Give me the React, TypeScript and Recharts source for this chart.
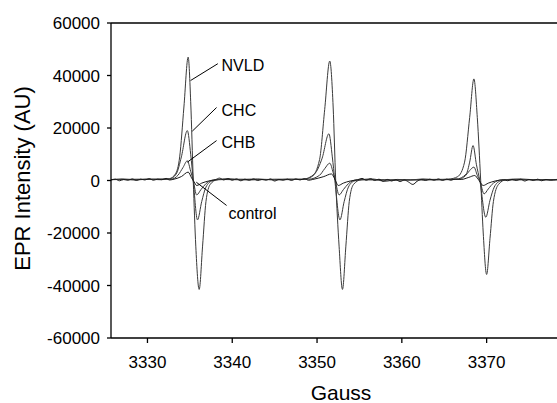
import React from "react";
import {
  LineChart,
  Line,
  XAxis,
  YAxis,
  ReferenceLine,
  ReferenceDot,
} from "recharts";

// field positions (Gauss) and intensities (AU)
const nvldGauss = [
  3325.7, 3327, 3328.5, 3330, 3331.5, 3332.6, 3333.3, 3333.8, 3334.3, 3334.8, 3335.1, 3335.4, 3335.7, 3336.1,
  3336.5, 3336.9, 3337.4, 3338.2, 3339.5, 3341, 3343, 3345, 3346.5, 3348.2, 3349.4, 3350.3, 3350.9, 3351.5,
  3351.9, 3352.2, 3352.6, 3353.0, 3353.4, 3353.8, 3354.3, 3355.2, 3356.5, 3358, 3359.5, 3361, 3362.5, 3364,
  3365.5, 3366.6, 3367.4, 3368, 3368.5, 3368.9, 3369.3, 3369.6, 3370.0, 3370.4, 3370.8, 3371.4, 3372.3, 3374,
  3376, 3378.3,
];
const nvldIntensity = [
  300, 600, 200, 500, 300, 700, 2500, 9000, 28000, 47000, 30000, 0, -25000, -41500,
  -25000, -8000, -1500, 300, 700, 300, 600, 200, 500, 400, 1500, 8000, 27000, 45500,
  28000, 0, -25000, -41500, -25000, -8000, -1500, 300, 600, -300, 400, 200, 600, 300,
  500, 1500, 7000, 24000, 38700, 24000, 0, -20000, -35800, -22000, -8000, -1500, 300, 600,
  200, 400,
];

const chcGauss = [
  3325.7, 3328, 3331, 3332.6, 3333.4, 3334.0, 3334.7, 3335.1, 3335.4, 3335.9, 3336.4, 3336.9, 3337.6, 3338.6,
  3342, 3345, 3348.3, 3349.7, 3350.6, 3351.4, 3351.8, 3352.1, 3352.7, 3353.2, 3353.7, 3354.4, 3355.5,
  3359, 3363, 3366.4, 3367.6, 3368.0, 3368.4, 3368.8, 3369.2, 3369.9, 3370.4, 3370.9, 3371.6, 3372.6, 3378.3,
];
const chcIntensity = [
  400, 300, 500, 600, 2500, 9000, 19000, 10000, 0, -15000, -8000, -2500, -200, 400,
  200, 500, 500, 2500, 8500, 17800, 9000, 0, -15000, -8000, -2500, -200, 400,
  100, 400, 500, 2500, 7000, 13300, 6000, 0, -14000, -7500, -2500, -200, 400, 300,
];

const chbGauss = [
  3325.7, 3329, 3332.8, 3333.6, 3334.2, 3334.7, 3335.1, 3335.4, 3335.8, 3336.3, 3336.9, 3337.8,
  3341, 3345, 3349, 3350.3, 3350.9, 3351.5, 3351.9, 3352.15, 3352.6, 3353.1, 3353.7, 3354.6,
  3358, 3362, 3366.6, 3367.5, 3368.0, 3368.5, 3368.9, 3369.2, 3369.7, 3370.2, 3370.8, 3371.8, 3378.3,
];
const chbIntensity = [
  300, 500, 500, 2000, 5000, 7500, 3500, 0, -5500, -3500, -1200, 200,
  500, 300, 500, 2000, 4500, 6600, 3000, 0, -5500, -3500, -1200, 200,
  300, 200, 400, 1800, 3800, 5100, 2000, 0, -5100, -3200, -1000, 200, 300,
];

const controlGauss = [
  3325.7, 3326.2, 3326.7, 3327.2, 3327.7, 3328.2, 3328.7, 3329.2, 3329.7, 3330.2, 3330.7, 3331.2, 3331.7,
  3332.2, 3332.6, 3333, 3334.0, 3334.8, 3335.2, 3335.5, 3335.8, 3336.4, 3337.2, 3338, 3338.5, 3339,
  3339.5, 3340, 3340.5, 3341, 3341.5, 3342, 3342.5, 3343, 3343.5, 3344, 3344.5, 3345, 3345.5, 3346,
  3346.5, 3347, 3347.5, 3348, 3348.5, 3349, 3349.5, 3350.8, 3351.7, 3352.1, 3352.5, 3353.1, 3353.9,
  3354.8, 3355.3, 3355.8, 3356.3, 3356.8, 3357.3, 3357.8, 3358.3, 3358.8, 3359.3, 3359.8, 3360.3,
  3360.8, 3361.3, 3361.8, 3362.3, 3362.8, 3363.3, 3363.8, 3364.3, 3364.8, 3365.3, 3365.8, 3366.3,
  3367, 3367.9, 3368.6, 3369.0, 3369.6, 3370.2, 3371, 3372, 3372.5, 3373, 3373.5, 3374, 3374.5, 3375,
  3375.5, 3376, 3376.5, 3377, 3377.5, 3378.3,
];
const controlIntensity = [
  200, 500, -100, 400, 100, 600, 0, 500, 200, 700, 100, 500, 300,
  800, 200, 400, 1500, 3200, 1000, -500, -1900, -1000, -200, 300, 900, 200,
  700, 100, 600, -100, 500, 100, 600, 0, 400, 100, 600, -200, 400, 100,
  500, 0, 600, 200, 700, 100, 400, 1500, 2500, 500, -1900, -1000, -200,
  300, 800, 100, 700, 0, 500, -300, 400, -200, 300, -400, 200,
  -600, -1500, -300, 400, 0, 500, 100, 600, 0, 500, 100, 600,
  400, 1200, 1900, 500, -1900, -1000, -200, 300, -100, 400, 0, 500, -200, 400,
  0, 500, -100, 400, 100, 300,
];

const xTicks = [3330, 3340, 3350, 3360, 3370];
const yTicks = [-60000, -40000, -20000, 0, 20000, 40000, 60000];

const toPoints = (xs: number[], ys: number[]) => xs.map((x, i) => ({ x, y: ys[i] }));

const series = [
  { name: "NVLD", data: toPoints(nvldGauss, nvldIntensity), color: "#3a3a3a" },
  { name: "CHC", data: toPoints(chcGauss, chcIntensity), color: "#3a3a3a" },
  { name: "CHB", data: toPoints(chbGauss, chbIntensity), color: "#3a3a3a" },
  { name: "control", data: toPoints(controlGauss, controlIntensity), color: "#1a1a1a" },
];

// label text anchor + leader line ends, in data units
const callouts = [
  { text: "NVLD", at: { x: 3338.74, y: 43800 }, from: { x: 3338.3, y: 44500 }, to: { x: 3335.09, y: 38100 } },
  { text: "CHC", at: { x: 3338.74, y: 26700 }, from: { x: 3338.15, y: 27800 }, to: { x: 3335.29, y: 18800 } },
  { text: "CHB", at: { x: 3338.74, y: 14500 }, from: { x: 3338.15, y: 15200 }, to: { x: 3334.71, y: 7000 } },
  { text: "control", at: { x: 3339.56, y: -12600 }, from: { x: 3339.33, y: -9500 }, to: { x: 3335.76, y: -650 } },
];

const FONT = "'Liberation Sans', Arial, sans-serif";

export default function App() {
  return (
    <div style={{ position: "absolute", left: 0, top: 0, background: "#fff" }}>
      <LineChart width={557} height={403} margin={{ top: 23, right: 0, bottom: 0, left: 0 }}>
        <XAxis
          dataKey="x"
          type="number"
          domain={[3325.7, 3378.3]}
          ticks={xTicks}
          allowDataOverflow
          height={65}
          stroke="#000"
          strokeWidth={1.3}
          tickSize={5}
          tickMargin={13}
          tick={{ fill: "#000", fontSize: 17, fontFamily: FONT }}
          label={{
            content: (p: any) => {
              const vb = p.viewBox;
              return (
                <text
                  x={vb.x + vb.width / 2 + 7}
                  y={vb.y + 54}
                  textAnchor="middle"
                  dominantBaseline="central"
                  fontSize={21}
                  fontFamily={FONT}
                  fill="#000"
                >
                  Gauss
                </text>
              );
            },
          }}
        />
        <YAxis
          type="number"
          domain={[-60000, 60000]}
          ticks={yTicks}
          allowDataOverflow
          width={111}
          stroke="#000"
          strokeWidth={1.3}
          tickSize={4}
          tickMargin={7}
          tick={{ fill: "#000", fontSize: 17, fontFamily: FONT }}
          label={{
            content: (p: any) => {
              const vb = p.viewBox;
              const cx = vb.x + 22;
              const cy = vb.y + vb.height / 2 - 2;
              return (
                <text
                  x={cx}
                  y={cy}
                  transform={`rotate(-90 ${cx} ${cy})`}
                  textAnchor="middle"
                  dominantBaseline="central"
                  fontSize={22}
                  fontFamily={FONT}
                  fill="#000"
                >
                  EPR Intensity (AU)
                </text>
              );
            },
          }}
        />
        <ReferenceLine y={60000} stroke="#000" strokeWidth={1.3} />
        {series.map((s) => (
          <Line
            key={s.name}
            data={s.data}
            dataKey="y"
            type="monotone"
            stroke={s.color}
            strokeWidth={1}
            dot={false}
            isAnimationActive={false}
          />
        ))}
        {callouts.map((c) => (
          <ReferenceLine
            key={`leader-${c.text}`}
            segment={[c.from, c.to]}
            stroke="#000"
            strokeWidth={1}
          />
        ))}
        {callouts.map((c) => (
          <ReferenceDot
            key={`label-${c.text}`}
            x={c.at.x}
            y={c.at.y}
            r={0}
            ifOverflow="visible"
            shape={(p: any) => (
              <text
                x={p.cx}
                y={p.cy}
                dominantBaseline="central"
                fontSize={16}
                fontFamily={FONT}
                fill="#000"
              >
                {c.text}
              </text>
            )}
          />
        ))}
      </LineChart>
    </div>
  );
}
